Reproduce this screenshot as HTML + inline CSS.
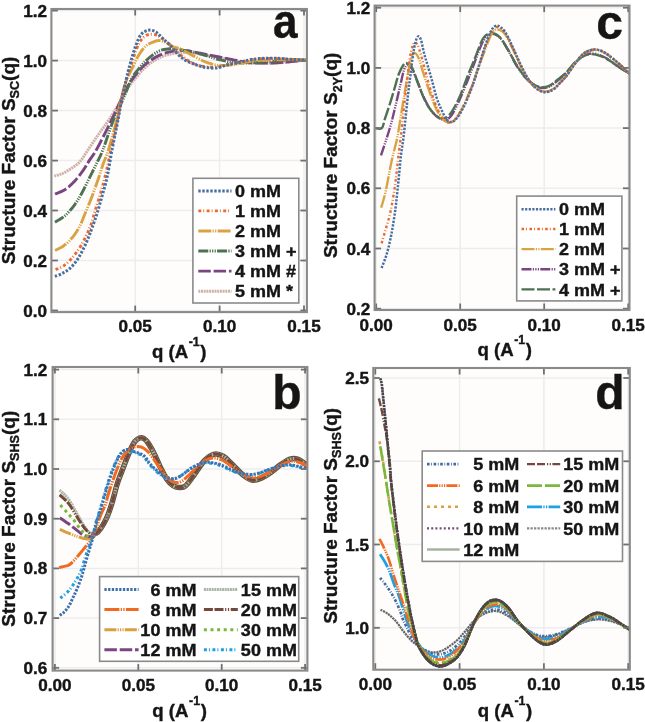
<!DOCTYPE html>
<html><head><meta charset="utf-8"><title>Structure factor figure</title>
<style>html,body{margin:0;padding:0;background:#fff;width:645px;height:722px;overflow:hidden;font-family:"Liberation Sans",sans-serif}svg{display:block;filter:blur(0.5px)}text{stroke:#151515;stroke-width:0.4px}</style>
</head><body>
<svg width="645" height="722" viewBox="0 0 645 722" font-family="'Liberation Sans', sans-serif" font-weight="bold" fill="#151515"><clipPath id="clipa"><rect x="51.4" y="9.0" width="255.5" height="303.1"/></clipPath>
<rect x="51.4" y="9.0" width="255.5" height="303.1" fill="#fefdfc"/>
<g stroke="#ededed" stroke-width="1.5"><line x1="135.2" y1="9.0" x2="135.2" y2="312.1"/><line x1="219.6" y1="9.0" x2="219.6" y2="312.1"/><line x1="304.0" y1="9.0" x2="304.0" y2="312.1"/><line x1="51.4" y1="310.5" x2="306.9" y2="310.5"/><line x1="51.4" y1="260.5" x2="306.9" y2="260.5"/><line x1="51.4" y1="210.5" x2="306.9" y2="210.5"/><line x1="51.4" y1="160.6" x2="306.9" y2="160.6"/><line x1="51.4" y1="110.6" x2="306.9" y2="110.6"/><line x1="51.4" y1="60.6" x2="306.9" y2="60.6"/><line x1="51.4" y1="10.6" x2="306.9" y2="10.6"/></g>
<g clip-path="url(#clipa)">
<path d="M54.30,176.10 C55.65,175.68 59.60,174.85 62.40,173.60 C65.20,172.35 68.20,170.57 71.10,168.60 C74.00,166.63 77.00,164.90 79.80,161.80 C82.60,158.70 84.87,154.47 87.90,150.00 C90.93,145.53 94.52,140.00 98.00,135.00 C101.48,130.00 104.97,125.75 108.80,120.00 C112.63,114.25 117.63,106.08 121.00,100.50 C124.37,94.92 126.33,90.50 129.00,86.50 C131.67,82.50 134.50,79.50 137.00,76.50 C139.50,73.50 141.50,70.92 144.00,68.50 C146.50,66.08 149.33,63.83 152.00,62.00 C154.67,60.17 157.17,58.75 160.00,57.50 C162.83,56.25 165.67,55.33 169.00,54.50 C172.33,53.67 176.03,52.75 180.00,52.50 C183.97,52.25 188.47,52.58 192.80,53.00 C197.13,53.42 201.60,54.25 206.00,55.00 C210.40,55.75 214.80,56.67 219.20,57.50 C223.60,58.33 228.02,59.17 232.40,60.00 C236.78,60.83 241.12,61.95 245.50,62.50 C249.88,63.05 254.28,63.18 258.70,63.30 C263.12,63.42 267.60,63.35 272.00,63.20 C276.40,63.05 280.72,62.77 285.10,62.40 C289.48,62.03 294.65,61.38 298.30,61.00 C301.95,60.62 305.55,60.25 307.00,60.10" fill="none" stroke="#cfb1aa" stroke-width="2.90" stroke-dasharray="2 0.7" stroke-linejoin="round"/>
<path d="M55.00,194.00 C56.65,193.28 61.60,191.87 64.90,189.70 C68.20,187.53 71.70,184.30 74.80,181.00 C77.90,177.70 81.02,173.42 83.50,169.90 C85.98,166.38 87.57,163.22 89.70,159.90 C91.83,156.58 92.65,156.65 96.30,150.00 C99.95,143.35 107.45,128.42 111.60,120.00 C115.75,111.58 118.37,105.38 121.20,99.50 C124.03,93.62 126.13,88.88 128.60,84.70 C131.07,80.52 133.52,77.52 136.00,74.40 C138.48,71.28 140.85,68.48 143.50,66.00 C146.15,63.52 149.12,61.35 151.90,59.50 C154.68,57.65 157.42,56.13 160.20,54.90 C162.98,53.67 165.58,52.85 168.60,52.10 C171.62,51.35 175.40,50.62 178.30,50.40 C181.20,50.18 183.58,50.58 186.00,50.80 C188.42,51.02 189.47,51.12 192.80,51.70 C196.13,52.28 201.60,53.42 206.00,54.30 C210.40,55.18 214.80,56.12 219.20,57.00 C223.60,57.88 228.02,58.73 232.40,59.60 C236.78,60.47 241.12,61.63 245.50,62.20 C249.88,62.77 254.28,62.87 258.70,63.00 C263.12,63.13 267.60,63.13 272.00,63.00 C276.40,62.87 280.72,62.55 285.10,62.20 C289.48,61.85 294.65,61.25 298.30,60.90 C301.95,60.55 305.55,60.23 307.00,60.10" fill="none" stroke="#7b4582" stroke-width="2.90" stroke-dasharray="12.5 2.8" stroke-linejoin="round"/>
<path d="M55.00,222.20 C56.65,221.13 61.60,218.73 64.90,215.80 C68.20,212.87 71.90,208.53 74.80,204.60 C77.70,200.67 79.82,196.75 82.30,192.20 C84.78,187.65 87.23,182.27 89.70,177.30 C92.17,172.33 94.92,166.95 97.10,162.40 C99.28,157.85 100.07,157.07 102.80,150.00 C105.53,142.93 110.13,128.42 113.50,120.00 C116.87,111.58 120.02,106.32 123.00,99.50 C125.98,92.68 128.92,84.05 131.40,79.10 C133.88,74.15 135.58,72.75 137.90,69.80 C140.22,66.85 142.82,63.88 145.30,61.40 C147.78,58.92 150.15,56.77 152.80,54.90 C155.45,53.03 158.42,51.22 161.20,50.20 C163.98,49.18 167.03,49.07 169.50,48.80 C171.97,48.53 173.58,48.35 176.00,48.60 C178.42,48.85 181.20,49.75 184.00,50.30 C186.80,50.85 189.13,51.02 192.80,51.90 C196.47,52.78 201.60,54.32 206.00,55.60 C210.40,56.88 214.80,58.50 219.20,59.60 C223.60,60.70 228.02,61.63 232.40,62.20 C236.78,62.77 241.12,62.95 245.50,63.00 C249.88,63.05 254.28,62.75 258.70,62.50 C263.12,62.25 266.78,61.83 272.00,61.50 C277.22,61.17 284.17,60.75 290.00,60.50 C295.83,60.25 304.17,60.08 307.00,60.00" fill="none" stroke="#4d7152" stroke-width="2.90" stroke-dasharray="10 1.3 1.2 1.3 1.2 1.3 1.2 1.3" stroke-linejoin="round"/>
<path d="M55.00,250.40 C56.23,249.78 60.13,248.15 62.40,246.70 C64.67,245.25 66.53,243.77 68.60,241.70 C70.67,239.63 72.93,236.88 74.80,234.30 C76.67,231.72 78.15,229.50 79.80,226.20 C81.45,222.90 82.63,219.55 84.70,214.50 C86.77,209.45 89.92,201.90 92.20,195.90 C94.48,189.90 96.55,183.88 98.40,178.50 C100.25,173.12 101.63,168.35 103.30,163.60 C104.97,158.85 106.17,157.27 108.40,150.00 C110.63,142.73 114.52,128.83 116.70,120.00 C118.88,111.17 119.72,103.95 121.50,97.00 C123.28,90.05 125.43,83.47 127.40,78.30 C129.37,73.13 131.40,69.90 133.30,66.00 C135.20,62.10 136.80,58.15 138.80,54.90 C140.80,51.65 143.10,48.57 145.30,46.50 C147.50,44.43 149.80,43.50 152.00,42.50 C154.20,41.50 156.18,40.53 158.50,40.50 C160.82,40.47 163.43,41.27 165.90,42.30 C168.37,43.33 171.02,45.67 173.30,46.70 C175.58,47.73 177.48,47.62 179.60,48.50 C181.72,49.38 183.80,50.82 186.00,52.00 C188.20,53.18 189.47,53.90 192.80,55.60 C196.13,57.30 201.60,60.57 206.00,62.20 C210.40,63.83 214.80,64.95 219.20,65.40 C223.60,65.85 228.02,65.43 232.40,64.90 C236.78,64.37 241.12,62.93 245.50,62.20 C249.88,61.47 254.28,60.90 258.70,60.50 C263.12,60.10 266.78,59.95 272.00,59.80 C277.22,59.65 284.17,59.57 290.00,59.60 C295.83,59.63 304.17,59.93 307.00,60.00" fill="none" stroke="#d9a344" stroke-width="2.90" stroke-dasharray="13 1.3 1.2 1.3 1.2 1.3" stroke-linejoin="round"/>
<path d="M55.60,269.60 C56.93,268.98 61.12,267.55 63.60,265.90 C66.08,264.25 68.42,261.87 70.50,259.70 C72.58,257.53 74.35,255.28 76.10,252.90 C77.85,250.52 79.45,247.98 81.00,245.40 C82.55,242.82 84.05,240.08 85.40,237.40 C86.75,234.72 87.97,232.00 89.10,229.30 C90.23,226.60 91.27,224.08 92.20,221.20 C93.13,218.32 93.25,216.83 94.70,212.00 C96.15,207.17 99.05,198.60 100.90,192.20 C102.75,185.80 104.20,180.30 105.80,173.60 C107.40,166.90 108.55,160.93 110.50,152.00 C112.45,143.07 115.67,128.83 117.50,120.00 C119.33,111.17 120.47,104.08 121.50,99.00 C122.53,93.92 122.72,93.37 123.70,89.50 C124.68,85.63 126.15,79.93 127.40,75.80 C128.65,71.67 129.95,68.42 131.20,64.70 C132.45,60.98 133.45,57.33 134.90,53.50 C136.35,49.67 138.03,44.70 139.90,41.70 C141.77,38.70 144.03,36.73 146.10,35.50 C148.17,34.27 150.45,34.30 152.30,34.30 C154.15,34.30 155.35,34.68 157.20,35.50 C159.05,36.32 161.33,37.65 163.40,39.20 C165.47,40.75 167.53,42.83 169.60,44.80 C171.67,46.77 173.52,48.93 175.80,51.00 C178.08,53.07 180.82,55.33 183.30,57.20 C185.78,59.07 188.22,60.85 190.70,62.20 C193.18,63.55 195.65,64.53 198.20,65.30 C200.75,66.07 202.95,66.48 206.00,66.80 C209.05,67.12 213.00,67.57 216.50,67.20 C220.00,66.83 223.03,65.47 227.00,64.60 C230.97,63.73 236.33,62.80 240.30,62.00 C244.27,61.20 246.85,60.37 250.80,59.80 C254.75,59.23 259.60,58.80 264.00,58.60 C268.40,58.40 272.80,58.45 277.20,58.60 C281.60,58.75 285.43,59.27 290.40,59.50 C295.37,59.73 304.23,59.92 307.00,60.00" fill="none" stroke="#ec6a2c" stroke-width="2.90" stroke-dasharray="3 2 0.9 2.4" stroke-linejoin="round"/>
<path d="M55.00,276.50 C56.23,275.97 59.92,274.65 62.40,273.30 C64.88,271.95 67.42,270.67 69.90,268.40 C72.38,266.13 75.03,263.02 77.30,259.70 C79.57,256.38 81.63,252.22 83.50,248.50 C85.37,244.78 87.05,240.92 88.50,237.40 C89.95,233.88 90.77,231.42 92.20,227.40 C93.63,223.38 95.45,218.55 97.10,213.30 C98.75,208.05 100.43,201.90 102.10,195.90 C103.77,189.90 105.45,184.95 107.10,177.30 C108.75,169.65 110.18,159.55 112.00,150.00 C113.82,140.45 116.37,128.50 118.00,120.00 C119.63,111.50 120.43,105.73 121.80,99.00 C123.17,92.27 124.95,84.92 126.20,79.60 C127.45,74.28 128.27,71.03 129.30,67.10 C130.33,63.17 131.27,59.72 132.40,56.00 C133.53,52.28 134.65,48.40 136.10,44.80 C137.55,41.20 139.03,36.83 141.10,34.40 C143.17,31.97 146.02,30.60 148.50,30.20 C150.98,29.80 153.72,30.70 156.00,32.00 C158.28,33.30 159.93,35.87 162.20,38.00 C164.47,40.13 167.12,42.22 169.60,44.80 C172.08,47.38 174.62,51.02 177.10,53.50 C179.58,55.98 181.88,58.03 184.50,59.70 C187.12,61.37 190.22,62.45 192.80,63.50 C195.38,64.55 197.80,65.33 200.00,66.00 C202.20,66.67 203.25,67.17 206.00,67.50 C208.75,67.83 213.00,68.42 216.50,68.00 C220.00,67.58 223.03,65.97 227.00,65.00 C230.97,64.03 236.33,63.10 240.30,62.20 C244.27,61.30 246.85,60.25 250.80,59.60 C254.75,58.95 259.60,58.52 264.00,58.30 C268.40,58.08 272.80,58.13 277.20,58.30 C281.60,58.47 285.43,59.02 290.40,59.30 C295.37,59.58 304.23,59.88 307.00,60.00" fill="none" stroke="#476ea2" stroke-width="3.00" stroke-dasharray="2.4 1.6" stroke-linejoin="round"/>
</g>
<g stroke="#707070" stroke-width="1.8"><line x1="135.2" y1="312.1" x2="135.2" y2="305.6"/><line x1="135.2" y1="9.0" x2="135.2" y2="15.5"/><line x1="219.6" y1="312.1" x2="219.6" y2="305.6"/><line x1="219.6" y1="9.0" x2="219.6" y2="15.5"/><line x1="304.0" y1="312.1" x2="304.0" y2="305.6"/><line x1="304.0" y1="9.0" x2="304.0" y2="15.5"/><line x1="51.4" y1="310.5" x2="57.9" y2="310.5"/><line x1="306.9" y1="310.5" x2="300.4" y2="310.5"/><line x1="51.4" y1="260.5" x2="57.9" y2="260.5"/><line x1="306.9" y1="260.5" x2="300.4" y2="260.5"/><line x1="51.4" y1="210.5" x2="57.9" y2="210.5"/><line x1="306.9" y1="210.5" x2="300.4" y2="210.5"/><line x1="51.4" y1="160.6" x2="57.9" y2="160.6"/><line x1="306.9" y1="160.6" x2="300.4" y2="160.6"/><line x1="51.4" y1="110.6" x2="57.9" y2="110.6"/><line x1="306.9" y1="110.6" x2="300.4" y2="110.6"/><line x1="51.4" y1="60.6" x2="57.9" y2="60.6"/><line x1="306.9" y1="60.6" x2="300.4" y2="60.6"/><line x1="51.4" y1="10.6" x2="57.9" y2="10.6"/><line x1="306.9" y1="10.6" x2="300.4" y2="10.6"/></g>
<rect x="51.4" y="9.0" width="255.5" height="303.1" fill="none" stroke="#8a8a8a" stroke-width="2.1"/>
<text transform="translate(135.2,332.0) scale(1.050,1)" font-size="16.3" text-anchor="middle">0.05</text>
<text transform="translate(219.6,332.0) scale(1.050,1)" font-size="16.3" text-anchor="middle">0.10</text>
<text transform="translate(304.0,332.0) scale(1.050,1)" font-size="16.3" text-anchor="middle">0.15</text>
<text transform="translate(47.0,316.5) scale(1.050,1)" font-size="16.3" text-anchor="end">0.0</text>
<text transform="translate(47.0,266.5) scale(1.050,1)" font-size="16.3" text-anchor="end">0.2</text>
<text transform="translate(47.0,216.5) scale(1.050,1)" font-size="16.3" text-anchor="end">0.4</text>
<text transform="translate(47.0,166.6) scale(1.050,1)" font-size="16.3" text-anchor="end">0.6</text>
<text transform="translate(47.0,116.6) scale(1.050,1)" font-size="16.3" text-anchor="end">0.8</text>
<text transform="translate(47.0,66.6) scale(1.050,1)" font-size="16.3" text-anchor="end">1.0</text>
<text transform="translate(47.0,16.6) scale(1.050,1)" font-size="16.3" text-anchor="end">1.2</text>
<text x="179.2" y="357.8" font-size="18.6" text-anchor="middle">q (A<tspan font-size="12.3" dy="-12.3" dx="0.6">-1</tspan><tspan dy="12.3" dx="0.6">)</tspan></text>
<text transform="translate(15.0,160.4) rotate(-90)" x="0" y="0" font-size="19" text-anchor="middle">Structure Factor S<tspan font-size="12.6" dy="4.3">SC</tspan><tspan dy="-4.3">(q)</tspan></text>
<text transform="translate(297.6,38.3) scale(0.920,1)" font-size="48.0" text-anchor="end">a</text>
<rect x="192.9" y="178.3" width="105.9" height="124.7" fill="#ffffff" stroke="#8a8a8a" stroke-width="1.6"/>
<line x1="198.3" y1="191.0" x2="231.5" y2="191.0" stroke="#476ea2" stroke-width="3.00" stroke-dasharray="2.4 1.6"/>
<text transform="translate(235.0,197.1) scale(1.060,1)" font-size="17.0" text-anchor="start">0 mM</text>
<line x1="198.3" y1="210.9" x2="231.5" y2="210.9" stroke="#ec6a2c" stroke-width="2.90" stroke-dasharray="3 2 0.9 2.4"/>
<text transform="translate(235.0,217.0) scale(1.060,1)" font-size="17.0" text-anchor="start">1 mM</text>
<line x1="198.3" y1="231.0" x2="231.5" y2="231.0" stroke="#d9a344" stroke-width="2.90" stroke-dasharray="13 1.3 1.2 1.3 1.2 1.3"/>
<text transform="translate(235.0,237.1) scale(1.060,1)" font-size="17.0" text-anchor="start">2 mM</text>
<line x1="198.3" y1="251.0" x2="231.5" y2="251.0" stroke="#4d7152" stroke-width="2.90" stroke-dasharray="10 1.3 1.2 1.3 1.2 1.3 1.2 1.3"/>
<text transform="translate(235.0,257.1) scale(1.060,1)" font-size="17.0" text-anchor="start">3 mM +</text>
<line x1="198.3" y1="271.1" x2="231.5" y2="271.1" stroke="#7b4582" stroke-width="2.90" stroke-dasharray="12.5 2.8"/>
<text transform="translate(235.0,277.2) scale(1.060,1)" font-size="17.0" text-anchor="start">4 mM #</text>
<line x1="198.3" y1="291.2" x2="231.5" y2="291.2" stroke="#cfb1aa" stroke-width="2.90" stroke-dasharray="2 0.7"/>
<text transform="translate(235.0,297.3) scale(1.060,1)" font-size="17.0" text-anchor="start">5 mM *</text>
<clipPath id="clipb"><rect x="52.6" y="367.0" width="254.8" height="303.6"/></clipPath>
<rect x="52.6" y="367.0" width="254.8" height="303.6" fill="#fefdfc"/>
<g stroke="#ededed" stroke-width="1.5"><line x1="54.9" y1="367.0" x2="54.9" y2="670.6"/><line x1="138.3" y1="367.0" x2="138.3" y2="670.6"/><line x1="221.7" y1="367.0" x2="221.7" y2="670.6"/><line x1="305.1" y1="367.0" x2="305.1" y2="670.6"/><line x1="52.6" y1="667.8" x2="307.4" y2="667.8"/><line x1="52.6" y1="618.1" x2="307.4" y2="618.1"/><line x1="52.6" y1="568.4" x2="307.4" y2="568.4"/><line x1="52.6" y1="518.7" x2="307.4" y2="518.7"/><line x1="52.6" y1="469.0" x2="307.4" y2="469.0"/><line x1="52.6" y1="419.3" x2="307.4" y2="419.3"/><line x1="52.6" y1="369.6" x2="307.4" y2="369.6"/></g>
<g clip-path="url(#clipb)">
<path d="M92.20,534.40 C93.12,534.03 95.85,533.87 97.70,532.20 C99.55,530.53 101.63,527.18 103.30,524.40 C104.97,521.62 106.25,519.07 107.70,515.50 C109.15,511.93 110.42,508.25 112.00,503.00 C113.58,497.75 115.60,489.17 117.20,484.00 C118.80,478.83 120.13,475.92 121.60,472.00 C123.07,468.08 124.52,464.25 126.00,460.50 C127.48,456.75 129.02,452.67 130.50,449.50 C131.98,446.33 133.40,443.42 134.90,441.50 C136.40,439.58 138.02,438.50 139.50,438.00 C140.98,437.50 142.30,437.57 143.80,438.50 C145.30,439.43 146.68,440.90 148.50,443.60 C150.32,446.30 152.63,450.57 154.70,454.70 C156.77,458.83 158.83,464.25 160.90,468.40 C162.97,472.55 165.03,476.70 167.10,479.60 C169.17,482.50 171.23,484.47 173.30,485.80 C175.37,487.13 177.43,487.60 179.50,487.60 C181.57,487.60 183.20,488.00 185.70,485.80 C188.20,483.60 191.43,478.53 194.50,474.40 C197.57,470.27 200.92,464.35 204.10,461.00 C207.28,457.65 210.42,455.10 213.60,454.30 C216.78,453.50 220.02,454.45 223.20,456.20 C226.38,457.95 229.52,461.77 232.70,464.80 C235.88,467.83 239.12,471.85 242.30,474.40 C245.48,476.95 248.63,479.47 251.80,480.10 C254.97,480.73 258.12,479.48 261.30,478.20 C264.48,476.92 267.72,474.63 270.90,472.40 C274.08,470.17 277.22,467.02 280.40,464.80 C283.58,462.58 287.13,460.05 290.00,459.10 C292.87,458.15 295.07,458.30 297.60,459.10 C300.13,459.90 303.47,462.83 305.20,463.90 C306.93,464.97 307.53,465.23 308.00,465.50" fill="none" stroke="#5e5445" stroke-width="5.50" stroke-linejoin="round"/>
<path d="M59.80,529.30 C61.27,529.95 65.65,532.00 68.60,533.20 C71.55,534.40 74.73,535.57 77.50,536.50 C80.27,537.43 82.80,538.52 85.20,538.80 C87.60,539.08 89.82,539.30 91.90,538.20 C93.98,537.10 95.80,534.50 97.70,532.20 C99.60,529.90 101.63,527.18 103.30,524.40 C104.97,521.62 106.25,519.07 107.70,515.50 C109.15,511.93 110.42,508.25 112.00,503.00 C113.58,497.75 115.60,489.17 117.20,484.00 C118.80,478.83 120.13,475.92 121.60,472.00 C123.07,468.08 124.52,464.25 126.00,460.50 C127.48,456.75 129.02,452.67 130.50,449.50 C131.98,446.33 133.40,443.42 134.90,441.50 C136.40,439.58 138.02,438.50 139.50,438.00 C140.98,437.50 142.30,437.57 143.80,438.50 C145.30,439.43 146.68,440.90 148.50,443.60 C150.32,446.30 152.63,450.57 154.70,454.70 C156.77,458.83 158.83,464.25 160.90,468.40 C162.97,472.55 165.03,476.70 167.10,479.60 C169.17,482.50 171.23,484.47 173.30,485.80 C175.37,487.13 177.43,487.60 179.50,487.60 C181.57,487.60 183.20,488.00 185.70,485.80 C188.20,483.60 191.43,478.53 194.50,474.40 C197.57,470.27 200.92,464.35 204.10,461.00 C207.28,457.65 210.42,455.10 213.60,454.30 C216.78,453.50 220.02,454.45 223.20,456.20 C226.38,457.95 229.52,461.77 232.70,464.80 C235.88,467.83 239.12,471.85 242.30,474.40 C245.48,476.95 248.63,479.47 251.80,480.10 C254.97,480.73 258.12,479.48 261.30,478.20 C264.48,476.92 267.72,474.63 270.90,472.40 C274.08,470.17 277.22,467.02 280.40,464.80 C283.58,462.58 287.13,460.05 290.00,459.10 C292.87,458.15 295.07,458.30 297.60,459.10 C300.13,459.90 303.47,462.83 305.20,463.90 C306.93,464.97 307.53,465.23 308.00,465.50" fill="none" stroke="#d8a040" stroke-width="3.00" stroke-dasharray="12 1.2 1.2 1.2 1.2 1.2 1.2 1.2" stroke-linejoin="round"/>
<path d="M59.80,517.70 C61.27,518.72 65.83,521.77 68.60,523.80 C71.37,525.83 74.00,528.05 76.40,529.90 C78.80,531.75 80.98,533.80 83.00,534.90 C85.02,536.00 86.83,536.27 88.50,536.50 C90.17,536.73 91.47,537.02 93.00,536.30 C94.53,535.58 95.98,534.18 97.70,532.20 C99.42,530.22 101.63,527.18 103.30,524.40 C104.97,521.62 106.25,519.07 107.70,515.50 C109.15,511.93 110.42,508.25 112.00,503.00 C113.58,497.75 115.60,489.17 117.20,484.00 C118.80,478.83 120.13,475.92 121.60,472.00 C123.07,468.08 124.52,464.25 126.00,460.50 C127.48,456.75 129.02,452.67 130.50,449.50 C131.98,446.33 133.40,443.42 134.90,441.50 C136.40,439.58 138.02,438.50 139.50,438.00 C140.98,437.50 142.30,437.57 143.80,438.50 C145.30,439.43 146.68,440.90 148.50,443.60 C150.32,446.30 152.63,450.57 154.70,454.70 C156.77,458.83 158.83,464.25 160.90,468.40 C162.97,472.55 165.03,476.70 167.10,479.60 C169.17,482.50 171.23,484.47 173.30,485.80 C175.37,487.13 177.43,487.60 179.50,487.60 C181.57,487.60 183.20,488.00 185.70,485.80 C188.20,483.60 191.43,478.53 194.50,474.40 C197.57,470.27 200.92,464.35 204.10,461.00 C207.28,457.65 210.42,455.10 213.60,454.30 C216.78,453.50 220.02,454.45 223.20,456.20 C226.38,457.95 229.52,461.77 232.70,464.80 C235.88,467.83 239.12,471.85 242.30,474.40 C245.48,476.95 248.63,479.47 251.80,480.10 C254.97,480.73 258.12,479.48 261.30,478.20 C264.48,476.92 267.72,474.63 270.90,472.40 C274.08,470.17 277.22,467.02 280.40,464.80 C283.58,462.58 287.13,460.05 290.00,459.10 C292.87,458.15 295.07,458.30 297.60,459.10 C300.13,459.90 303.47,462.83 305.20,463.90 C306.93,464.97 307.53,465.23 308.00,465.50" fill="none" stroke="#7b4582" stroke-width="3.00" stroke-dasharray="12.5 2.8" stroke-linejoin="round"/>
<path d="M60.30,505.00 C61.13,505.92 63.73,508.75 65.30,510.50 C66.87,512.25 68.23,513.83 69.70,515.50 C71.17,517.17 72.72,518.75 74.10,520.50 C75.48,522.25 76.70,524.25 78.00,526.00 C79.30,527.75 80.52,529.43 81.90,531.00 C83.28,532.57 84.78,534.40 86.30,535.40 C87.82,536.40 89.10,537.53 91.00,537.00 C92.90,536.47 95.65,534.30 97.70,532.20 C99.75,530.10 101.63,527.18 103.30,524.40 C104.97,521.62 106.25,519.07 107.70,515.50 C109.15,511.93 110.42,508.25 112.00,503.00 C113.58,497.75 115.60,489.17 117.20,484.00 C118.80,478.83 120.13,475.92 121.60,472.00 C123.07,468.08 124.52,464.25 126.00,460.50 C127.48,456.75 129.02,452.67 130.50,449.50 C131.98,446.33 133.40,443.42 134.90,441.50 C136.40,439.58 138.02,438.50 139.50,438.00 C140.98,437.50 142.30,437.57 143.80,438.50 C145.30,439.43 146.68,440.90 148.50,443.60 C150.32,446.30 152.63,450.57 154.70,454.70 C156.77,458.83 158.83,464.25 160.90,468.40 C162.97,472.55 165.03,476.70 167.10,479.60 C169.17,482.50 171.23,484.47 173.30,485.80 C175.37,487.13 177.43,487.60 179.50,487.60 C181.57,487.60 183.20,488.00 185.70,485.80 C188.20,483.60 191.43,478.53 194.50,474.40 C197.57,470.27 200.92,464.35 204.10,461.00 C207.28,457.65 210.42,455.10 213.60,454.30 C216.78,453.50 220.02,454.45 223.20,456.20 C226.38,457.95 229.52,461.77 232.70,464.80 C235.88,467.83 239.12,471.85 242.30,474.40 C245.48,476.95 248.63,479.47 251.80,480.10 C254.97,480.73 258.12,479.48 261.30,478.20 C264.48,476.92 267.72,474.63 270.90,472.40 C274.08,470.17 277.22,467.02 280.40,464.80 C283.58,462.58 287.13,460.05 290.00,459.10 C292.87,458.15 295.07,458.30 297.60,459.10 C300.13,459.90 303.47,462.83 305.20,463.90 C306.93,464.97 307.53,465.23 308.00,465.50" fill="none" stroke="#7ab83a" stroke-width="3.00" stroke-dasharray="3 3.6" stroke-linejoin="round"/>
<path d="M59.60,490.20 C60.55,491.08 63.57,493.62 65.30,495.50 C67.03,497.38 68.30,498.92 70.00,501.50 C71.70,504.08 73.65,507.75 75.50,511.00 C77.35,514.25 79.25,517.92 81.10,521.00 C82.95,524.08 84.75,527.27 86.60,529.50 C88.45,531.73 90.35,533.95 92.20,534.40 C94.05,534.85 95.85,533.87 97.70,532.20 C99.55,530.53 101.63,527.18 103.30,524.40 C104.97,521.62 106.25,519.07 107.70,515.50 C109.15,511.93 110.42,508.25 112.00,503.00 C113.58,497.75 115.60,489.17 117.20,484.00 C118.80,478.83 120.13,475.92 121.60,472.00 C123.07,468.08 124.52,464.25 126.00,460.50 C127.48,456.75 129.02,452.67 130.50,449.50 C131.98,446.33 133.40,443.42 134.90,441.50 C136.40,439.58 138.02,438.50 139.50,438.00 C140.98,437.50 142.30,437.57 143.80,438.50 C145.30,439.43 146.68,440.90 148.50,443.60 C150.32,446.30 152.63,450.57 154.70,454.70 C156.77,458.83 158.83,464.25 160.90,468.40 C162.97,472.55 165.03,476.70 167.10,479.60 C169.17,482.50 171.23,484.47 173.30,485.80 C175.37,487.13 177.43,487.60 179.50,487.60 C181.57,487.60 183.20,488.00 185.70,485.80 C188.20,483.60 191.43,478.53 194.50,474.40 C197.57,470.27 200.92,464.35 204.10,461.00 C207.28,457.65 210.42,455.10 213.60,454.30 C216.78,453.50 220.02,454.45 223.20,456.20 C226.38,457.95 229.52,461.77 232.70,464.80 C235.88,467.83 239.12,471.85 242.30,474.40 C245.48,476.95 248.63,479.47 251.80,480.10 C254.97,480.73 258.12,479.48 261.30,478.20 C264.48,476.92 267.72,474.63 270.90,472.40 C274.08,470.17 277.22,467.02 280.40,464.80 C283.58,462.58 287.13,460.05 290.00,459.10 C292.87,458.15 295.07,458.30 297.60,459.10 C300.13,459.90 303.47,462.83 305.20,463.90 C306.93,464.97 307.53,465.23 308.00,465.50" fill="none" stroke="#a9b6a5" stroke-width="3.00" stroke-dasharray="2 0.6" stroke-linejoin="round"/>
<path d="M59.60,494.80 C60.55,495.67 63.57,498.22 65.30,500.00 C67.03,501.78 68.30,503.10 70.00,505.50 C71.70,507.90 73.65,511.43 75.50,514.40 C77.35,517.37 79.25,520.62 81.10,523.30 C82.95,525.98 84.75,528.65 86.60,530.50 C88.45,532.35 90.35,534.12 92.20,534.40 C94.05,534.68 95.85,533.87 97.70,532.20 C99.55,530.53 101.63,527.18 103.30,524.40 C104.97,521.62 106.25,519.07 107.70,515.50 C109.15,511.93 110.42,508.25 112.00,503.00 C113.58,497.75 115.60,489.17 117.20,484.00 C118.80,478.83 120.13,475.92 121.60,472.00 C123.07,468.08 124.52,464.25 126.00,460.50 C127.48,456.75 129.02,452.67 130.50,449.50 C131.98,446.33 133.40,443.42 134.90,441.50 C136.40,439.58 138.02,438.50 139.50,438.00 C140.98,437.50 142.30,437.57 143.80,438.50 C145.30,439.43 146.68,440.90 148.50,443.60 C150.32,446.30 152.63,450.57 154.70,454.70 C156.77,458.83 158.83,464.25 160.90,468.40 C162.97,472.55 165.03,476.70 167.10,479.60 C169.17,482.50 171.23,484.47 173.30,485.80 C175.37,487.13 177.43,487.60 179.50,487.60 C181.57,487.60 183.20,488.00 185.70,485.80 C188.20,483.60 191.43,478.53 194.50,474.40 C197.57,470.27 200.92,464.35 204.10,461.00 C207.28,457.65 210.42,455.10 213.60,454.30 C216.78,453.50 220.02,454.45 223.20,456.20 C226.38,457.95 229.52,461.77 232.70,464.80 C235.88,467.83 239.12,471.85 242.30,474.40 C245.48,476.95 248.63,479.47 251.80,480.10 C254.97,480.73 258.12,479.48 261.30,478.20 C264.48,476.92 267.72,474.63 270.90,472.40 C274.08,470.17 277.22,467.02 280.40,464.80 C283.58,462.58 287.13,460.05 290.00,459.10 C292.87,458.15 295.07,458.30 297.60,459.10 C300.13,459.90 303.47,462.83 305.20,463.90 C306.93,464.97 307.53,465.23 308.00,465.50" fill="none" stroke="#74493c" stroke-width="3.00" stroke-dasharray="9 1.6 9 1.6 1.2 1.6 1.2 1.6" stroke-linejoin="round"/>
<path d="M59.20,567.60 C60.40,567.32 64.60,566.45 66.40,565.90 C68.20,565.35 68.48,565.48 70.00,564.30 C71.52,563.12 73.65,560.83 75.50,558.80 C77.35,556.77 79.25,554.32 81.10,552.10 C82.95,549.88 84.93,547.53 86.60,545.50 C88.27,543.47 89.80,542.12 91.10,539.90 C92.40,537.68 93.30,534.97 94.40,532.20 C95.50,529.43 96.60,526.27 97.70,523.30 C98.80,520.33 99.70,517.55 101.00,514.40 C102.30,511.25 104.28,507.75 105.50,504.40 C106.72,501.05 107.10,498.20 108.30,494.30 C109.50,490.40 111.22,485.25 112.70,481.00 C114.18,476.75 115.72,472.50 117.20,468.80 C118.68,465.10 119.93,461.75 121.60,458.80 C123.27,455.85 125.35,452.95 127.20,451.10 C129.05,449.25 130.87,448.45 132.70,447.70 C134.53,446.95 136.35,446.50 138.20,446.60 C140.05,446.70 141.83,447.07 143.80,448.30 C145.77,449.53 147.80,451.38 150.00,454.00 C152.20,456.62 154.83,461.00 157.00,464.00 C159.17,467.00 160.83,469.33 163.00,472.00 C165.17,474.67 167.83,478.25 170.00,480.00 C172.17,481.75 174.00,482.33 176.00,482.50 C178.00,482.67 179.67,482.42 182.00,481.00 C184.33,479.58 187.33,476.50 190.00,474.00 C192.67,471.50 195.33,468.33 198.00,466.00 C200.67,463.67 203.33,461.33 206.00,460.00 C208.67,458.67 211.17,457.92 214.00,458.00 C216.83,458.08 219.83,458.92 223.00,460.50 C226.17,462.08 229.83,465.25 233.00,467.50 C236.17,469.75 238.83,472.33 242.00,474.00 C245.17,475.67 248.78,477.13 252.00,477.50 C255.22,477.87 258.13,477.28 261.30,476.20 C264.47,475.12 267.82,472.78 271.00,471.00 C274.18,469.22 277.23,467.08 280.40,465.50 C283.57,463.92 287.07,462.08 290.00,461.50 C292.93,460.92 295.00,461.25 298.00,462.00 C301.00,462.75 306.33,465.33 308.00,466.00" fill="none" stroke="#f06a22" stroke-width="3.00" stroke-dasharray="15 1.3 1.3 1.3 1.3 1.3" stroke-linejoin="round"/>
<path d="M60.30,598.20 C61.50,597.18 65.38,594.30 67.50,592.10 C69.62,589.90 71.33,587.40 73.00,585.00 C74.67,582.60 76.12,580.20 77.50,577.70 C78.88,575.20 80.20,572.77 81.30,570.00 C82.40,567.23 83.15,564.10 84.10,561.10 C85.05,558.10 85.98,555.02 87.00,552.00 C88.02,548.98 89.20,545.85 90.20,543.00 C91.20,540.15 92.07,538.28 93.00,534.90 C93.93,531.52 94.87,526.22 95.80,522.70 C96.73,519.18 97.67,516.77 98.60,513.80 C99.53,510.83 100.47,508.07 101.40,504.90 C102.33,501.73 103.00,498.88 104.20,494.80 C105.40,490.72 107.13,484.83 108.60,480.40 C110.07,475.97 111.52,471.90 113.00,468.20 C114.48,464.50 116.02,460.88 117.50,458.20 C118.98,455.52 120.42,453.48 121.90,452.10 C123.38,450.72 124.73,449.98 126.40,449.90 C128.07,449.82 129.88,450.95 131.90,451.60 C133.92,452.25 136.47,452.88 138.50,453.80 C140.53,454.72 142.37,455.42 144.10,457.10 C145.83,458.78 146.87,461.52 148.90,463.90 C150.93,466.28 154.03,469.33 156.30,471.40 C158.57,473.47 160.42,475.07 162.50,476.30 C164.58,477.53 166.72,478.38 168.80,478.80 C170.88,479.22 172.93,479.35 175.00,478.80 C177.07,478.25 179.17,476.80 181.20,475.50 C183.23,474.20 185.03,472.50 187.20,471.00 C189.37,469.50 191.52,467.83 194.20,466.50 C196.88,465.17 200.20,463.52 203.30,463.00 C206.40,462.48 209.62,462.85 212.80,463.40 C215.98,463.95 219.22,465.03 222.40,466.30 C225.58,467.57 228.72,469.73 231.90,471.00 C235.08,472.27 238.32,473.25 241.50,473.90 C244.68,474.55 247.83,475.07 251.00,474.90 C254.17,474.73 257.32,473.87 260.50,472.90 C263.68,471.93 266.92,470.20 270.10,469.10 C273.28,468.00 276.42,466.93 279.60,466.30 C282.78,465.67 286.02,465.15 289.20,465.30 C292.38,465.45 295.70,466.57 298.70,467.20 C301.70,467.83 305.78,468.78 307.20,469.10" fill="none" stroke="#1ea0e6" stroke-width="3.00" stroke-dasharray="3 2 1 2.5" stroke-linejoin="round"/>
<path d="M59.80,615.40 C60.53,614.83 62.73,613.48 64.20,612.00 C65.67,610.52 67.13,608.88 68.60,606.50 C70.07,604.12 71.52,600.83 73.00,597.70 C74.48,594.57 76.08,591.15 77.50,587.70 C78.92,584.25 80.35,580.45 81.50,577.00 C82.65,573.55 83.37,570.67 84.40,567.00 C85.43,563.33 86.58,558.83 87.70,555.00 C88.82,551.17 90.08,547.43 91.10,544.00 C92.12,540.57 92.88,538.03 93.80,534.40 C94.72,530.77 95.67,525.72 96.60,522.20 C97.53,518.68 98.47,516.27 99.40,513.30 C100.33,510.33 101.27,507.57 102.20,504.40 C103.13,501.23 103.80,498.38 105.00,494.30 C106.20,490.22 107.93,484.33 109.40,479.90 C110.87,475.47 112.32,471.40 113.80,467.70 C115.28,464.00 116.82,460.38 118.30,457.70 C119.78,455.02 121.22,452.98 122.70,451.60 C124.18,450.22 125.53,449.48 127.20,449.40 C128.87,449.32 130.68,450.45 132.70,451.10 C134.72,451.75 137.27,452.38 139.30,453.30 C141.33,454.22 143.17,454.92 144.90,456.60 C146.63,458.28 147.67,461.02 149.70,463.40 C151.73,465.78 154.83,468.83 157.10,470.90 C159.37,472.97 161.22,474.57 163.30,475.80 C165.38,477.03 167.52,477.88 169.60,478.30 C171.68,478.72 173.73,478.85 175.80,478.30 C177.87,477.75 179.97,476.30 182.00,475.00 C184.03,473.70 185.83,472.00 188.00,470.50 C190.17,469.00 192.32,467.33 195.00,466.00 C197.68,464.67 201.00,463.02 204.10,462.50 C207.20,461.98 210.42,462.35 213.60,462.90 C216.78,463.45 220.02,464.53 223.20,465.80 C226.38,467.07 229.52,469.23 232.70,470.50 C235.88,471.77 239.12,472.75 242.30,473.40 C245.48,474.05 248.63,474.57 251.80,474.40 C254.97,474.23 258.12,473.37 261.30,472.40 C264.48,471.43 267.72,469.70 270.90,468.60 C274.08,467.50 277.22,466.43 280.40,465.80 C283.58,465.17 286.82,464.65 290.00,464.80 C293.18,464.95 296.50,466.07 299.50,466.70 C302.50,467.33 306.58,468.28 308.00,468.60" fill="none" stroke="#3f70ad" stroke-width="3.00" stroke-dasharray="2.3 1.4" stroke-linejoin="round"/>
</g>
<g stroke="#707070" stroke-width="1.8"><line x1="54.9" y1="670.6" x2="54.9" y2="664.1"/><line x1="54.9" y1="367.0" x2="54.9" y2="373.5"/><line x1="138.3" y1="670.6" x2="138.3" y2="664.1"/><line x1="138.3" y1="367.0" x2="138.3" y2="373.5"/><line x1="221.7" y1="670.6" x2="221.7" y2="664.1"/><line x1="221.7" y1="367.0" x2="221.7" y2="373.5"/><line x1="305.1" y1="670.6" x2="305.1" y2="664.1"/><line x1="305.1" y1="367.0" x2="305.1" y2="373.5"/><line x1="52.6" y1="667.8" x2="59.1" y2="667.8"/><line x1="307.4" y1="667.8" x2="300.9" y2="667.8"/><line x1="52.6" y1="618.1" x2="59.1" y2="618.1"/><line x1="307.4" y1="618.1" x2="300.9" y2="618.1"/><line x1="52.6" y1="568.4" x2="59.1" y2="568.4"/><line x1="307.4" y1="568.4" x2="300.9" y2="568.4"/><line x1="52.6" y1="518.7" x2="59.1" y2="518.7"/><line x1="307.4" y1="518.7" x2="300.9" y2="518.7"/><line x1="52.6" y1="469.0" x2="59.1" y2="469.0"/><line x1="307.4" y1="469.0" x2="300.9" y2="469.0"/><line x1="52.6" y1="419.3" x2="59.1" y2="419.3"/><line x1="307.4" y1="419.3" x2="300.9" y2="419.3"/><line x1="52.6" y1="369.6" x2="59.1" y2="369.6"/><line x1="307.4" y1="369.6" x2="300.9" y2="369.6"/></g>
<rect x="52.6" y="367.0" width="254.8" height="303.6" fill="none" stroke="#8a8a8a" stroke-width="2.1"/>
<text transform="translate(54.9,690.8) scale(1.050,1)" font-size="16.3" text-anchor="middle">0.00</text>
<text transform="translate(138.3,690.8) scale(1.050,1)" font-size="16.3" text-anchor="middle">0.05</text>
<text transform="translate(221.7,690.8) scale(1.050,1)" font-size="16.3" text-anchor="middle">0.10</text>
<text transform="translate(305.1,690.8) scale(1.050,1)" font-size="16.3" text-anchor="middle">0.15</text>
<text transform="translate(47.3,673.8) scale(1.050,1)" font-size="16.3" text-anchor="end">0.6</text>
<text transform="translate(47.3,624.1) scale(1.050,1)" font-size="16.3" text-anchor="end">0.7</text>
<text transform="translate(47.3,574.4) scale(1.050,1)" font-size="16.3" text-anchor="end">0.8</text>
<text transform="translate(47.3,524.7) scale(1.050,1)" font-size="16.3" text-anchor="end">0.9</text>
<text transform="translate(47.3,475.0) scale(1.050,1)" font-size="16.3" text-anchor="end">1.0</text>
<text transform="translate(47.3,425.3) scale(1.050,1)" font-size="16.3" text-anchor="end">1.1</text>
<text transform="translate(47.3,375.6) scale(1.050,1)" font-size="16.3" text-anchor="end">1.2</text>
<text x="179.6" y="717.2" font-size="18.6" text-anchor="middle">q (A<tspan font-size="12.3" dy="-12.3" dx="0.6">-1</tspan><tspan dy="12.3" dx="0.6">)</tspan></text>
<text transform="translate(15.0,518.7) rotate(-90)" x="0" y="0" font-size="19" text-anchor="middle">Structure Factor S<tspan font-size="12.6" dy="4.3">SHS</tspan><tspan dy="-4.3">(q)</tspan></text>
<text x="301.5" y="409.0" font-size="48.0" text-anchor="end">b</text>
<rect x="99.6" y="576.6" width="199.1" height="84.7" fill="#ffffff" stroke="#8a8a8a" stroke-width="1.6"/>
<line x1="104.4" y1="589.5" x2="138.6" y2="589.5" stroke="#3f70ad" stroke-width="3.00" stroke-dasharray="2.3 1.4"/>
<text transform="translate(196.4,595.6) scale(1.060,1)" font-size="17.0" text-anchor="end">6 mM</text>
<line x1="104.4" y1="609.6" x2="138.6" y2="609.6" stroke="#f06a22" stroke-width="3.00" stroke-dasharray="15 1.3 1.3 1.3 1.3 1.3"/>
<text transform="translate(196.4,615.7) scale(1.060,1)" font-size="17.0" text-anchor="end">8 mM</text>
<line x1="104.4" y1="629.8" x2="138.6" y2="629.8" stroke="#d8a040" stroke-width="3.00" stroke-dasharray="12 1.2 1.2 1.2 1.2 1.2 1.2 1.2"/>
<text transform="translate(196.4,635.9) scale(1.060,1)" font-size="17.0" text-anchor="end">10 mM</text>
<line x1="104.4" y1="649.8" x2="138.6" y2="649.8" stroke="#7b4582" stroke-width="3.00" stroke-dasharray="12.5 2.8"/>
<text transform="translate(196.4,655.9) scale(1.060,1)" font-size="17.0" text-anchor="end">12 mM</text>
<line x1="203.9" y1="589.5" x2="237.8" y2="589.5" stroke="#a9b6a5" stroke-width="3.00" stroke-dasharray="2 0.6"/>
<text transform="translate(296.9,595.6) scale(1.060,1)" font-size="17.0" text-anchor="end">15 mM</text>
<line x1="203.9" y1="609.6" x2="237.8" y2="609.6" stroke="#74493c" stroke-width="3.00" stroke-dasharray="9 1.6 9 1.6 1.2 1.6 1.2 1.6"/>
<text transform="translate(296.9,615.7) scale(1.060,1)" font-size="17.0" text-anchor="end">20 mM</text>
<line x1="203.9" y1="629.8" x2="237.8" y2="629.8" stroke="#7ab83a" stroke-width="3.00" stroke-dasharray="3 3.6"/>
<text transform="translate(296.9,635.9) scale(1.060,1)" font-size="17.0" text-anchor="end">30 mM</text>
<line x1="203.9" y1="649.8" x2="237.8" y2="649.8" stroke="#1ea0e6" stroke-width="3.00" stroke-dasharray="3 2 1 2.5"/>
<text transform="translate(296.9,655.9) scale(1.060,1)" font-size="17.0" text-anchor="end">50 mM</text>
<clipPath id="clipc"><rect x="374.6" y="5.6" width="254.9" height="304.4"/></clipPath>
<rect x="374.6" y="5.6" width="254.9" height="304.4" fill="#fefdfc"/>
<g stroke="#ededed" stroke-width="1.5"><line x1="376.2" y1="5.6" x2="376.2" y2="310.0"/><line x1="460.2" y1="5.6" x2="460.2" y2="310.0"/><line x1="544.2" y1="5.6" x2="544.2" y2="310.0"/><line x1="628.2" y1="5.6" x2="628.2" y2="310.0"/><line x1="374.6" y1="308.7" x2="629.5" y2="308.7"/><line x1="374.6" y1="248.5" x2="629.5" y2="248.5"/><line x1="374.6" y1="188.3" x2="629.5" y2="188.3"/><line x1="374.6" y1="128.1" x2="629.5" y2="128.1"/><line x1="374.6" y1="67.9" x2="629.5" y2="67.9"/><line x1="374.6" y1="7.7" x2="629.5" y2="7.7"/></g>
<g clip-path="url(#clipc)">
<path d="M381.00,155.30 C381.90,152.60 384.72,144.38 386.40,139.10 C388.08,133.82 389.55,129.28 391.10,123.60 C392.65,117.92 394.15,111.47 395.70,105.00 C397.25,98.53 399.02,90.63 400.40,84.80 C401.78,78.97 402.82,73.38 404.00,70.00 C405.18,66.62 406.33,65.08 407.50,64.50 C408.67,63.92 409.35,63.63 411.00,66.50 C412.65,69.37 415.03,76.07 417.40,81.70 C419.77,87.33 422.62,95.13 425.20,100.30 C427.78,105.47 430.32,109.60 432.90,112.70 C435.48,115.80 438.37,117.73 440.70,118.90 C443.03,120.07 444.85,120.68 446.90,119.70 C448.95,118.72 450.68,116.78 453.00,113.00 C455.32,109.22 458.20,102.83 460.80,97.00 C463.40,91.17 466.40,83.50 468.60,78.00 C470.80,72.50 471.55,70.17 474.00,64.00 C476.45,57.83 480.37,46.03 483.30,41.00 C486.23,35.97 488.83,34.33 491.60,33.80 C494.37,33.27 497.13,35.02 499.90,37.80 C502.67,40.58 505.43,45.88 508.20,50.50 C510.97,55.12 513.73,61.08 516.50,65.50 C519.27,69.92 522.03,73.83 524.80,77.00 C527.57,80.17 530.33,82.67 533.10,84.50 C535.87,86.33 538.63,87.67 541.40,88.00 C544.17,88.33 547.00,87.75 549.70,86.50 C552.40,85.25 554.80,82.78 557.60,80.50 C560.40,78.22 563.53,75.80 566.50,72.80 C569.47,69.80 572.43,65.38 575.40,62.50 C578.37,59.62 581.53,57.00 584.30,55.50 C587.07,54.00 589.25,53.50 592.00,53.50 C594.75,53.50 597.85,54.38 600.80,55.50 C603.75,56.62 606.73,58.32 609.70,60.20 C612.67,62.08 615.72,64.83 618.60,66.80 C621.48,68.77 625.10,70.80 627.00,72.00 C628.90,73.20 629.50,73.67 630.00,74.00" fill="none" stroke="#7b4582" stroke-width="2.40" stroke-dasharray="10 1.3 1.2 1.3 1.2 1.3 1.2 1.3" stroke-linejoin="round"/>
<path d="M375.00,128.20 C376.13,128.20 380.15,129.75 381.80,128.20 C383.45,126.65 383.62,122.77 384.90,118.90 C386.18,115.03 387.95,109.90 389.50,105.00 C391.05,100.10 392.65,94.67 394.20,89.50 C395.75,84.33 397.25,78.13 398.80,74.00 C400.35,69.87 402.20,66.52 403.50,64.70 C404.80,62.88 405.32,62.85 406.60,63.10 C407.88,63.35 409.65,63.87 411.20,66.20 C412.75,68.53 414.08,72.45 415.90,77.10 C417.72,81.75 420.03,89.20 422.10,94.10 C424.17,99.00 425.98,102.88 428.30,106.50 C430.62,110.12 433.68,113.73 436.00,115.80 C438.32,117.87 440.38,118.63 442.20,118.90 C444.02,119.17 445.08,118.95 446.90,117.40 C448.72,115.85 450.78,113.48 453.10,109.60 C455.42,105.72 458.32,99.87 460.80,94.10 C463.28,88.33 465.80,80.60 468.00,75.00 C470.20,69.40 471.45,66.63 474.00,60.50 C476.55,54.37 480.37,42.73 483.30,38.20 C486.23,33.67 488.83,33.43 491.60,33.30 C494.37,33.17 497.13,34.63 499.90,37.40 C502.67,40.17 505.43,45.33 508.20,49.90 C510.97,54.47 513.73,60.38 516.50,64.80 C519.27,69.22 522.03,73.22 524.80,76.40 C527.57,79.58 530.33,82.10 533.10,83.90 C535.87,85.70 538.63,86.92 541.40,87.20 C544.17,87.48 547.00,86.85 549.70,85.60 C552.40,84.35 554.80,81.95 557.60,79.70 C560.40,77.45 563.53,75.07 566.50,72.10 C569.47,69.13 572.43,64.65 575.40,61.90 C578.37,59.15 581.55,56.90 584.30,55.60 C587.05,54.30 589.15,54.00 591.90,54.10 C594.65,54.20 597.83,55.10 600.80,56.20 C603.77,57.30 606.73,58.90 609.70,60.70 C612.67,62.50 615.72,65.10 618.60,67.00 C621.48,68.90 625.10,70.93 627.00,72.10 C628.90,73.27 629.50,73.68 630.00,74.00" fill="none" stroke="#4d7152" stroke-width="2.40" stroke-dasharray="13 2.5" stroke-linejoin="round"/>
<path d="M381.20,207.70 C381.80,205.58 383.75,199.22 384.80,195.00 C385.85,190.78 386.60,186.90 387.50,182.40 C388.40,177.90 389.30,172.50 390.20,168.00 C391.10,163.50 391.72,160.48 392.90,155.40 C394.08,150.32 395.93,144.35 397.30,137.50 C398.67,130.65 399.82,122.05 401.10,114.30 C402.38,106.55 403.70,98.50 405.00,91.00 C406.30,83.50 407.73,75.22 408.90,69.30 C410.07,63.38 410.98,58.22 412.00,55.50 C413.02,52.78 413.83,52.42 415.00,53.00 C416.17,53.58 417.57,55.50 419.00,59.00 C420.43,62.50 421.80,68.42 423.60,74.00 C425.40,79.58 427.73,86.75 429.80,92.50 C431.87,98.25 433.93,104.17 436.00,108.50 C438.07,112.83 440.38,116.25 442.20,118.50 C444.02,120.75 445.08,121.55 446.90,122.00 C448.72,122.45 450.78,123.00 453.10,121.20 C455.42,119.40 458.22,115.72 460.80,111.20 C463.38,106.68 466.40,99.27 468.60,94.10 C470.80,88.93 472.10,85.38 474.00,80.20 C475.90,75.02 478.17,68.03 480.00,63.00 C481.83,57.97 483.07,54.83 485.00,50.00 C486.93,45.17 489.60,37.42 491.60,34.00 C493.60,30.58 494.78,29.50 497.00,29.50 C499.22,29.50 502.20,30.58 504.90,34.00 C507.60,37.42 510.43,44.42 513.20,50.00 C515.97,55.58 518.73,62.25 521.50,67.50 C524.27,72.75 527.03,77.83 529.80,81.50 C532.57,85.17 535.47,87.83 538.10,89.50 C540.73,91.17 543.12,91.58 545.60,91.50 C548.08,91.42 550.60,90.50 553.00,89.00 C555.40,87.50 557.75,84.75 560.00,82.50 C562.25,80.25 563.93,78.75 566.50,75.50 C569.07,72.25 572.43,66.72 575.40,63.00 C578.37,59.28 581.12,55.37 584.30,53.20 C587.48,51.03 591.32,50.17 594.50,50.00 C597.68,49.83 600.43,50.78 603.40,52.20 C606.37,53.62 609.33,56.20 612.30,58.50 C615.27,60.80 618.75,63.83 621.20,66.00 C623.65,68.17 625.53,70.17 627.00,71.50 C628.47,72.83 629.50,73.58 630.00,74.00" fill="none" stroke="#d9a344" stroke-width="2.40" stroke-dasharray="13 1.3 1.2 1.3 1.2 1.3" stroke-linejoin="round"/>
<path d="M381.60,243.30 C382.28,240.97 384.42,233.73 385.70,229.30 C386.98,224.87 388.25,220.92 389.30,216.70 C390.35,212.48 391.10,208.82 392.00,204.00 C392.90,199.18 393.95,192.90 394.70,187.80 C395.45,182.70 395.90,178.50 396.50,173.40 C397.10,168.30 397.55,163.60 398.30,157.20 C399.05,150.80 400.13,142.53 401.00,135.00 C401.87,127.47 402.67,119.50 403.50,112.00 C404.33,104.50 405.17,97.33 406.00,90.00 C406.83,82.67 407.67,74.33 408.50,68.00 C409.33,61.67 410.03,56.23 411.00,52.00 C411.97,47.77 413.22,43.77 414.30,42.60 C415.38,41.43 416.38,42.93 417.50,45.00 C418.62,47.07 419.75,50.83 421.00,55.00 C422.25,59.17 423.50,64.50 425.00,70.00 C426.50,75.50 428.33,82.50 430.00,88.00 C431.67,93.50 433.33,98.67 435.00,103.00 C436.67,107.33 438.33,111.08 440.00,114.00 C441.67,116.92 443.50,119.08 445.00,120.50 C446.50,121.92 447.33,122.67 449.00,122.50 C450.67,122.33 452.67,122.08 455.00,119.50 C457.33,116.92 460.33,112.08 463.00,107.00 C465.67,101.92 468.73,94.50 471.00,89.00 C473.27,83.50 474.27,80.92 476.60,74.00 C478.93,67.08 482.50,54.58 485.00,47.50 C487.50,40.42 489.60,34.92 491.60,31.50 C493.60,28.08 494.78,26.83 497.00,27.00 C499.22,27.17 502.20,28.83 504.90,32.50 C507.60,36.17 510.43,43.25 513.20,49.00 C515.97,54.75 518.73,61.58 521.50,67.00 C524.27,72.42 527.03,77.75 529.80,81.50 C532.57,85.25 535.47,87.75 538.10,89.50 C540.73,91.25 543.12,92.00 545.60,92.00 C548.08,92.00 550.60,91.00 553.00,89.50 C555.40,88.00 557.75,85.27 560.00,83.00 C562.25,80.73 563.93,79.20 566.50,75.90 C569.07,72.60 572.43,67.02 575.40,63.20 C578.37,59.38 581.12,55.28 584.30,53.00 C587.48,50.72 591.32,49.70 594.50,49.50 C597.68,49.30 600.43,50.37 603.40,51.80 C606.37,53.23 609.33,55.78 612.30,58.10 C615.27,60.42 618.75,63.47 621.20,65.70 C623.65,67.93 625.53,70.12 627.00,71.50 C628.47,72.88 629.50,73.58 630.00,74.00" fill="none" stroke="#ec6a2c" stroke-width="2.40" stroke-dasharray="2.6 2 0.9 2.4" stroke-linejoin="round"/>
<path d="M381.60,268.00 C382.43,265.75 385.17,259.15 386.60,254.50 C388.03,249.85 389.15,244.90 390.20,240.10 C391.25,235.30 392.00,231.10 392.90,225.70 C393.80,220.30 394.85,213.42 395.60,207.70 C396.35,201.98 396.80,197.12 397.40,191.40 C398.00,185.68 398.60,179.47 399.20,173.40 C399.80,167.33 400.28,160.98 401.00,155.00 C401.72,149.02 402.70,144.03 403.50,137.50 C404.30,130.97 405.03,123.03 405.80,115.80 C406.57,108.57 407.33,100.82 408.10,94.10 C408.87,87.38 409.58,82.02 410.40,75.50 C411.22,68.98 412.15,60.58 413.00,55.00 C413.85,49.42 414.63,45.10 415.50,42.00 C416.37,38.90 417.28,36.73 418.20,36.40 C419.12,36.07 420.03,37.23 421.00,40.00 C421.97,42.77 422.92,48.83 424.00,53.00 C425.08,57.17 426.17,60.42 427.50,65.00 C428.83,69.58 430.52,75.17 432.00,80.50 C433.48,85.83 434.95,92.40 436.40,97.00 C437.85,101.60 439.22,104.70 440.70,108.10 C442.18,111.50 443.75,115.08 445.30,117.40 C446.85,119.72 448.18,121.75 450.00,122.00 C451.82,122.25 453.88,121.48 456.20,118.90 C458.52,116.32 461.32,111.67 463.90,106.50 C466.48,101.33 469.58,93.47 471.70,87.90 C473.82,82.33 474.38,80.00 476.60,73.10 C478.82,66.20 482.50,53.70 485.00,46.50 C487.50,39.30 489.53,33.35 491.60,29.90 C493.67,26.45 495.18,25.52 497.40,25.80 C499.62,26.08 502.27,27.87 504.90,31.60 C507.53,35.33 510.43,42.38 513.20,48.20 C515.97,54.02 518.73,60.97 521.50,66.50 C524.27,72.03 527.03,77.53 529.80,81.40 C532.57,85.27 535.47,87.90 538.10,89.70 C540.73,91.50 543.12,92.20 545.60,92.20 C548.08,92.20 550.60,91.22 553.00,89.70 C555.40,88.18 557.75,85.40 560.00,83.10 C562.25,80.80 563.93,79.22 566.50,75.90 C569.07,72.58 572.43,67.02 575.40,63.20 C578.37,59.38 581.12,55.28 584.30,53.00 C587.48,50.72 591.32,49.70 594.50,49.50 C597.68,49.30 600.43,50.37 603.40,51.80 C606.37,53.23 609.33,55.78 612.30,58.10 C615.27,60.42 618.75,63.47 621.20,65.70 C623.65,67.93 625.53,70.12 627.00,71.50 C628.47,72.88 629.50,73.58 630.00,74.00" fill="none" stroke="#476ea2" stroke-width="2.50" stroke-dasharray="2.2 1.4" stroke-linejoin="round"/>
</g>
<g stroke="#707070" stroke-width="1.8"><line x1="376.2" y1="310.0" x2="376.2" y2="303.5"/><line x1="376.2" y1="5.6" x2="376.2" y2="12.1"/><line x1="460.2" y1="310.0" x2="460.2" y2="303.5"/><line x1="460.2" y1="5.6" x2="460.2" y2="12.1"/><line x1="544.2" y1="310.0" x2="544.2" y2="303.5"/><line x1="544.2" y1="5.6" x2="544.2" y2="12.1"/><line x1="628.2" y1="310.0" x2="628.2" y2="303.5"/><line x1="628.2" y1="5.6" x2="628.2" y2="12.1"/><line x1="374.6" y1="308.7" x2="381.1" y2="308.7"/><line x1="629.5" y1="308.7" x2="623.0" y2="308.7"/><line x1="374.6" y1="248.5" x2="381.1" y2="248.5"/><line x1="629.5" y1="248.5" x2="623.0" y2="248.5"/><line x1="374.6" y1="188.3" x2="381.1" y2="188.3"/><line x1="629.5" y1="188.3" x2="623.0" y2="188.3"/><line x1="374.6" y1="128.1" x2="381.1" y2="128.1"/><line x1="629.5" y1="128.1" x2="623.0" y2="128.1"/><line x1="374.6" y1="67.9" x2="381.1" y2="67.9"/><line x1="629.5" y1="67.9" x2="623.0" y2="67.9"/><line x1="374.6" y1="7.7" x2="381.1" y2="7.7"/><line x1="629.5" y1="7.7" x2="623.0" y2="7.7"/></g>
<rect x="374.6" y="5.6" width="254.9" height="304.4" fill="none" stroke="#8a8a8a" stroke-width="2.1"/>
<text transform="translate(376.2,331.0) scale(1.050,1)" font-size="16.3" text-anchor="middle">0.00</text>
<text transform="translate(460.2,331.0) scale(1.050,1)" font-size="16.3" text-anchor="middle">0.05</text>
<text transform="translate(544.2,331.0) scale(1.050,1)" font-size="16.3" text-anchor="middle">0.10</text>
<text transform="translate(628.2,331.0) scale(1.050,1)" font-size="16.3" text-anchor="middle">0.15</text>
<text transform="translate(370.3,314.7) scale(1.050,1)" font-size="16.3" text-anchor="end">0.2</text>
<text transform="translate(370.3,254.5) scale(1.050,1)" font-size="16.3" text-anchor="end">0.4</text>
<text transform="translate(370.3,194.3) scale(1.050,1)" font-size="16.3" text-anchor="end">0.6</text>
<text transform="translate(370.3,134.1) scale(1.050,1)" font-size="16.3" text-anchor="end">0.8</text>
<text transform="translate(370.3,73.9) scale(1.050,1)" font-size="16.3" text-anchor="end">1.0</text>
<text transform="translate(370.3,13.7) scale(1.050,1)" font-size="16.3" text-anchor="end">1.2</text>
<text x="504.7" y="356.3" font-size="18.6" text-anchor="middle">q (A<tspan font-size="12.3" dy="-12.3" dx="0.6">-1</tspan><tspan dy="12.3" dx="0.6">)</tspan></text>
<text transform="translate(337.3,155.4) rotate(-90)" x="0" y="0" font-size="19" text-anchor="middle">Structure Factor S<tspan font-size="12.6" dy="4.3">2Y</tspan><tspan dy="-4.3">(q)</tspan></text>
<text x="623.0" y="38.5" font-size="48.0" text-anchor="end">c</text>
<rect x="516.7" y="196.1" width="105.2" height="104.8" fill="#ffffff" stroke="#8a8a8a" stroke-width="1.6"/>
<line x1="521.5" y1="209.2" x2="555.4" y2="209.2" stroke="#476ea2" stroke-width="2.50" stroke-dasharray="2.2 1.4"/>
<text transform="translate(559.0,215.3) scale(1.060,1)" font-size="17.0" text-anchor="start">0 mM</text>
<line x1="521.5" y1="229.0" x2="555.4" y2="229.0" stroke="#ec6a2c" stroke-width="2.40" stroke-dasharray="2.6 2 0.9 2.4"/>
<text transform="translate(559.0,235.1) scale(1.060,1)" font-size="17.0" text-anchor="start">1 mM</text>
<line x1="521.5" y1="249.1" x2="555.4" y2="249.1" stroke="#d9a344" stroke-width="2.40" stroke-dasharray="13 1.3 1.2 1.3 1.2 1.3"/>
<text transform="translate(559.0,255.2) scale(1.060,1)" font-size="17.0" text-anchor="start">2 mM</text>
<line x1="521.5" y1="269.3" x2="555.4" y2="269.3" stroke="#7b4582" stroke-width="2.40" stroke-dasharray="10 1.3 1.2 1.3 1.2 1.3 1.2 1.3"/>
<text transform="translate(559.0,275.4) scale(1.060,1)" font-size="17.0" text-anchor="start">3 mM +</text>
<line x1="521.5" y1="289.4" x2="555.4" y2="289.4" stroke="#4d7152" stroke-width="2.40" stroke-dasharray="13 2.5"/>
<text transform="translate(559.0,295.5) scale(1.060,1)" font-size="17.0" text-anchor="start">4 mM +</text>
<clipPath id="clipd"><rect x="373.3" y="368.0" width="256.5" height="301.7"/></clipPath>
<rect x="373.3" y="368.0" width="256.5" height="301.7" fill="#fefdfc"/>
<g stroke="#ededed" stroke-width="1.5"><line x1="375.3" y1="368.0" x2="375.3" y2="669.7"/><line x1="459.6" y1="368.0" x2="459.6" y2="669.7"/><line x1="543.9" y1="368.0" x2="543.9" y2="669.7"/><line x1="628.2" y1="368.0" x2="628.2" y2="669.7"/><line x1="373.3" y1="627.8" x2="629.8" y2="627.8"/><line x1="373.3" y1="544.5" x2="629.8" y2="544.5"/><line x1="373.3" y1="461.3" x2="629.8" y2="461.3"/><line x1="373.3" y1="378.0" x2="629.8" y2="378.0"/></g>
<g clip-path="url(#clipd)">
<path d="M411.70,619.40 C412.25,621.83 413.87,629.53 415.00,634.00 C416.13,638.47 416.62,642.10 418.50,646.20 C420.38,650.30 423.72,655.50 426.30,658.60 C428.88,661.70 431.42,663.52 434.00,664.80 C436.58,666.08 439.22,666.57 441.80,666.30 C444.38,666.03 446.92,664.75 449.50,663.20 C452.08,661.65 454.72,660.10 457.30,657.00 C459.88,653.90 461.97,650.85 465.00,644.60 C468.03,638.35 471.98,626.32 475.50,619.50 C479.02,612.68 482.58,606.98 486.10,603.70 C489.62,600.42 493.08,599.35 496.60,599.80 C500.12,600.25 503.68,602.88 507.20,606.40 C510.72,609.92 514.18,616.52 517.70,620.90 C521.22,625.28 524.78,629.20 528.30,632.70 C531.82,636.20 535.73,639.92 538.80,641.90 C541.87,643.88 543.62,644.82 546.70,644.60 C549.78,644.38 553.35,643.02 557.30,640.60 C561.25,638.18 566.02,633.62 570.40,630.10 C574.78,626.58 579.20,622.37 583.60,619.50 C588.00,616.63 592.40,613.33 596.80,612.90 C601.20,612.47 606.05,615.13 610.00,616.90 C613.95,618.67 617.43,621.52 620.50,623.50 C623.57,625.48 626.65,627.63 628.40,628.80 C630.15,629.97 630.57,630.22 631.00,630.50" fill="none" stroke="#4a4a4a" stroke-width="2.60" stroke-linejoin="round"/>
<path d="M380.50,609.70 C381.67,610.35 385.03,611.78 387.50,613.60 C389.97,615.42 392.72,617.75 395.30,620.60 C397.88,623.45 400.42,627.47 403.00,630.70 C405.58,633.93 408.22,637.42 410.80,640.00 C413.38,642.58 415.92,644.40 418.50,646.20 C421.08,648.00 423.72,649.77 426.30,650.80 C428.88,651.83 431.42,652.40 434.00,652.40 C436.58,652.40 439.22,651.83 441.80,650.80 C444.38,649.77 446.92,648.00 449.50,646.20 C452.08,644.40 454.72,642.47 457.30,640.00 C459.88,637.53 461.97,634.82 465.00,631.40 C468.03,627.98 471.98,622.58 475.50,619.50 C479.02,616.42 482.58,614.30 486.10,612.90 C489.62,611.50 493.08,610.65 496.60,611.10 C500.12,611.55 503.68,613.53 507.20,615.60 C510.72,617.67 514.18,620.87 517.70,623.50 C521.22,626.13 524.35,629.20 528.30,631.40 C532.25,633.60 537.02,636.03 541.40,636.70 C545.78,637.37 549.77,636.72 554.60,635.40 C559.43,634.08 565.57,631.00 570.40,628.80 C575.23,626.60 579.20,623.75 583.60,622.20 C588.00,620.65 592.40,619.72 596.80,619.50 C601.20,619.28 604.73,619.58 610.00,620.90 C615.27,622.22 624.90,626.13 628.40,627.40 C631.90,628.67 630.57,628.32 631.00,628.50" fill="none" stroke="#666666" stroke-width="2.20" stroke-dasharray="2.2 0.7" stroke-linejoin="round"/>
<path d="M380.10,577.80 C381.02,578.95 383.85,582.32 385.60,584.70 C387.35,587.08 388.93,589.42 390.60,592.10 C392.27,594.78 393.95,597.48 395.60,600.80 C397.25,604.12 399.27,608.90 400.50,612.00 C401.73,615.10 401.75,616.40 403.00,619.40 C404.25,622.40 406.50,626.90 408.00,630.00 C409.50,633.10 410.25,635.42 412.00,638.00 C413.75,640.58 416.12,643.33 418.50,645.50 C420.88,647.67 423.72,649.58 426.30,651.00 C428.88,652.42 431.42,653.50 434.00,654.00 C436.58,654.50 439.22,654.50 441.80,654.00 C444.38,653.50 446.92,652.50 449.50,651.00 C452.08,649.50 454.72,647.50 457.30,645.00 C459.88,642.50 461.97,640.17 465.00,636.00 C468.03,631.83 471.98,624.08 475.50,620.00 C479.02,615.92 482.58,613.25 486.10,611.50 C489.62,609.75 493.08,609.17 496.60,609.50 C500.12,609.83 503.68,611.33 507.20,613.50 C510.72,615.67 514.18,619.67 517.70,622.50 C521.22,625.33 524.78,628.33 528.30,630.50 C531.82,632.67 535.73,634.58 538.80,635.50 C541.87,636.42 543.62,636.25 546.70,636.00 C549.78,635.75 553.35,635.25 557.30,634.00 C561.25,632.75 566.02,630.50 570.40,628.50 C574.78,626.50 579.20,623.67 583.60,622.00 C588.00,620.33 592.40,618.92 596.80,618.50 C601.20,618.08 606.05,618.50 610.00,619.50 C613.95,620.50 617.43,622.95 620.50,624.50 C623.57,626.05 626.65,627.80 628.40,628.80 C630.15,629.80 630.57,630.22 631.00,630.50" fill="none" stroke="#46689a" stroke-width="2.70" stroke-dasharray="2.6 1.6 0.8 1.6" stroke-linejoin="round"/>
<path d="M380.10,554.30 C380.82,555.43 382.85,558.32 384.40,561.10 C385.95,563.88 387.75,567.07 389.40,571.00 C391.05,574.93 392.65,580.35 394.30,584.70 C395.95,589.05 397.43,591.73 399.30,597.10 C401.17,602.47 403.72,611.58 405.50,616.90 C407.28,622.22 407.83,624.48 410.00,629.00 C412.17,633.52 415.78,640.08 418.50,644.00 C421.22,647.92 423.72,650.42 426.30,652.50 C428.88,654.58 431.42,655.67 434.00,656.50 C436.58,657.33 439.22,657.83 441.80,657.50 C444.38,657.17 446.92,656.00 449.50,654.50 C452.08,653.00 454.72,651.08 457.30,648.50 C459.88,645.92 461.97,643.58 465.00,639.00 C468.03,634.42 471.98,626.00 475.50,621.00 C479.02,616.00 482.58,611.50 486.10,609.00 C489.62,606.50 493.08,605.67 496.60,606.00 C500.12,606.33 503.68,608.33 507.20,611.00 C510.72,613.67 514.18,618.67 517.70,622.00 C521.22,625.33 524.78,628.42 528.30,631.00 C531.82,633.58 535.73,636.17 538.80,637.50 C541.87,638.83 543.62,639.17 546.70,639.00 C549.78,638.83 553.35,638.17 557.30,636.50 C561.25,634.83 566.02,631.50 570.40,629.00 C574.78,626.50 579.20,623.50 583.60,621.50 C588.00,619.50 592.40,617.50 596.80,617.00 C601.20,616.50 606.05,617.33 610.00,618.50 C613.95,619.67 617.43,622.28 620.50,624.00 C623.57,625.72 626.65,627.72 628.40,628.80 C630.15,629.88 630.57,630.22 631.00,630.50" fill="none" stroke="#1ea0e6" stroke-width="2.80" stroke-dasharray="15 1.3 1.3 1.3 1.3 1.3" stroke-linejoin="round"/>
<path d="M379.40,538.80 C380.23,540.45 382.73,544.98 384.40,548.70 C386.07,552.42 387.75,556.35 389.40,561.10 C391.05,565.85 392.65,572.03 394.30,577.20 C395.95,582.37 397.63,587.13 399.30,592.10 C400.97,597.07 402.85,602.45 404.30,607.00 C405.75,611.55 406.72,615.23 408.00,619.40 C409.28,623.57 410.25,627.73 412.00,632.00 C413.75,636.27 416.12,641.33 418.50,645.00 C420.88,648.67 423.72,651.75 426.30,654.00 C428.88,656.25 431.42,657.58 434.00,658.50 C436.58,659.42 439.22,659.83 441.80,659.50 C444.38,659.17 446.92,658.08 449.50,656.50 C452.08,654.92 454.72,652.75 457.30,650.00 C459.88,647.25 461.97,644.83 465.00,640.00 C468.03,635.17 471.98,626.33 475.50,621.00 C479.02,615.67 482.58,610.75 486.10,608.00 C489.62,605.25 493.08,604.25 496.60,604.50 C500.12,604.75 503.68,606.67 507.20,609.50 C510.72,612.33 514.18,617.83 517.70,621.50 C521.22,625.17 524.78,628.58 528.30,631.50 C531.82,634.42 535.73,637.42 538.80,639.00 C541.87,640.58 543.62,641.17 546.70,641.00 C549.78,640.83 553.35,639.92 557.30,638.00 C561.25,636.08 566.02,632.33 570.40,629.50 C574.78,626.67 579.20,623.33 583.60,621.00 C588.00,618.67 592.40,616.00 596.80,615.50 C601.20,615.00 606.05,616.58 610.00,618.00 C613.95,619.42 617.43,622.20 620.50,624.00 C623.57,625.80 626.65,627.72 628.40,628.80 C630.15,629.88 630.57,630.22 631.00,630.50" fill="none" stroke="#f06a22" stroke-width="2.60" stroke-dasharray="11 1.2 1.2 1.2 1.2 1.2 1.2 1.2" stroke-linejoin="round"/>
<path d="M382.00,384.00 C382.23,386.28 382.93,393.10 383.40,397.70 C383.87,402.30 384.33,406.98 384.80,411.60 C385.27,416.22 385.75,420.78 386.20,425.40 C386.65,430.02 387.05,434.68 387.50,439.30 C387.95,443.92 388.43,448.48 388.90,453.10 C389.37,457.72 389.88,462.27 390.30,467.00 C390.72,471.73 390.80,475.48 391.40,481.50 C392.00,487.52 393.07,496.17 393.90,503.10 C394.73,510.03 395.60,516.95 396.40,523.10 C397.20,529.25 397.88,534.18 398.70,540.00 C399.52,545.82 400.28,551.33 401.30,558.00 C402.32,564.67 403.63,573.00 404.80,580.00 C405.97,587.00 407.10,593.43 408.30,600.00 C409.50,606.57 410.83,613.73 412.00,619.40 C413.17,625.07 414.17,629.53 415.30,634.00 C416.43,638.47 416.92,642.10 418.80,646.20 C420.68,650.30 424.02,655.50 426.60,658.60 C429.18,661.70 431.72,663.52 434.30,664.80 C436.88,666.08 439.52,666.57 442.10,666.30 C444.68,666.03 447.22,664.75 449.80,663.20 C452.38,661.65 455.02,660.10 457.60,657.00 C460.18,653.90 462.27,650.85 465.30,644.60 C468.33,638.35 472.28,626.32 475.80,619.50 C479.32,612.68 482.88,606.98 486.40,603.70 C489.92,600.42 493.38,599.35 496.90,599.80 C500.42,600.25 503.98,602.88 507.50,606.40 C511.02,609.92 514.48,616.52 518.00,620.90 C521.52,625.28 525.08,629.20 528.60,632.70 C532.12,636.20 536.03,639.92 539.10,641.90 C542.17,643.88 543.92,644.82 547.00,644.60 C550.08,644.38 553.65,643.02 557.60,640.60 C561.55,638.18 566.32,633.62 570.70,630.10 C575.08,626.58 579.50,622.37 583.90,619.50 C588.30,616.63 592.70,613.33 597.10,612.90 C601.50,612.47 606.35,615.13 610.30,616.90 C614.25,618.67 617.73,621.52 620.80,623.50 C623.87,625.48 626.95,627.63 628.70,628.80 C630.45,629.97 630.87,630.22 631.30,630.50" fill="none" stroke="#7a4a80" stroke-width="2.20" stroke-dasharray="2 2.2" stroke-linejoin="round"/>
<path d="M379.50,441.30 C379.97,443.92 381.28,450.88 382.30,457.00 C383.32,463.12 384.48,470.83 385.60,478.00 C386.72,485.17 387.85,492.83 389.00,500.00 C390.15,507.17 391.37,514.17 392.50,521.00 C393.63,527.83 394.82,535.17 395.80,541.00 C396.78,546.83 397.40,550.33 398.40,556.00 C399.40,561.67 400.57,568.00 401.80,575.00 C403.03,582.00 404.47,590.83 405.80,598.00 C407.13,605.17 408.27,612.11 409.80,618.00 C411.33,623.89 413.55,628.96 415.00,633.32 C416.45,637.68 416.62,640.53 418.50,644.18 C420.38,647.83 423.72,652.45 426.30,655.21 C428.88,657.97 431.42,659.59 434.00,660.73 C436.58,661.87 439.22,662.30 441.80,662.06 C444.38,661.83 446.92,660.69 449.50,659.31 C452.08,657.93 454.72,656.55 457.30,653.79 C459.88,651.03 461.97,648.31 465.00,642.75 C468.03,637.19 471.98,626.48 475.50,620.41 C479.02,614.35 482.58,609.27 486.10,606.35 C489.62,603.43 493.08,602.48 496.60,602.88 C500.12,603.28 503.68,605.62 507.20,608.75 C510.72,611.88 514.18,617.76 517.70,621.66 C521.22,625.56 524.78,629.05 528.30,632.16 C531.82,635.28 535.73,638.58 538.80,640.35 C541.87,642.11 543.62,642.94 546.70,642.75 C549.78,642.56 553.35,641.34 557.30,639.19 C561.25,637.04 566.02,632.98 570.40,629.85 C574.78,626.72 579.20,622.96 583.60,620.41 C588.00,617.86 592.40,614.92 596.80,614.54 C601.20,614.15 606.05,616.53 610.00,618.10 C613.95,619.67 617.43,622.21 620.50,623.97 C623.57,625.74 626.65,627.65 628.40,628.69 C630.15,629.73 630.57,629.95 631.00,630.20" fill="none" stroke="#d9a040" stroke-width="2.50" stroke-dasharray="3 4" stroke-linejoin="round"/>
<path d="M380.30,446.20 C380.72,448.77 381.83,455.72 382.80,461.60 C383.77,467.48 385.00,474.58 386.10,481.50 C387.20,488.42 388.28,496.17 389.40,503.10 C390.52,510.03 391.68,516.45 392.80,523.10 C393.92,529.75 395.13,537.47 396.10,543.00 C397.07,548.53 397.62,550.97 398.60,556.30 C399.58,561.63 400.77,568.05 402.00,575.00 C403.23,581.95 404.67,590.83 406.00,598.00 C407.33,605.17 408.50,612.08 410.00,618.00 C411.50,623.92 413.58,629.05 415.00,633.50 C416.42,637.96 416.62,640.96 418.50,644.73 C420.38,648.50 423.72,653.28 426.30,656.14 C428.88,658.99 431.42,660.66 434.00,661.84 C436.58,663.02 439.22,663.47 441.80,663.22 C444.38,662.97 446.92,661.79 449.50,660.37 C452.08,658.94 454.72,657.52 457.30,654.66 C459.88,651.81 461.97,649.01 465.00,643.26 C468.03,637.51 471.98,626.44 475.50,620.16 C479.02,613.89 482.58,608.65 486.10,605.63 C489.62,602.61 493.08,601.63 496.60,602.04 C500.12,602.45 503.68,604.88 507.20,608.11 C510.72,611.35 514.18,617.42 517.70,621.45 C521.22,625.48 524.78,629.09 528.30,632.31 C531.82,635.53 535.73,638.95 538.80,640.77 C541.87,642.60 543.62,643.46 546.70,643.26 C549.78,643.06 553.35,641.80 557.30,639.58 C561.25,637.35 566.02,633.15 570.40,629.92 C574.78,626.68 579.20,622.80 583.60,620.16 C588.00,617.53 592.40,614.49 596.80,614.09 C601.20,613.69 606.05,616.15 610.00,617.77 C613.95,619.40 617.43,622.02 620.50,623.84 C623.57,625.67 626.65,627.65 628.40,628.72 C630.15,629.79 630.57,630.02 631.00,630.28" fill="none" stroke="#7ab83a" stroke-width="2.60" stroke-dasharray="15 3" stroke-linejoin="round"/>
<path d="M378.90,398.40 C379.37,400.37 380.77,405.70 381.70,410.20 C382.63,414.70 383.70,421.02 384.50,425.40 C385.30,429.78 385.87,431.97 386.50,436.50 C387.13,441.03 387.77,447.60 388.30,452.60 C388.83,457.60 389.28,461.77 389.70,466.50 C390.12,471.23 390.20,474.98 390.80,481.00 C391.40,487.02 392.47,495.67 393.30,502.60 C394.13,509.53 395.00,516.45 395.80,522.60 C396.60,528.75 397.28,533.68 398.10,539.50 C398.92,545.32 399.68,550.83 400.70,557.50 C401.72,564.17 403.03,572.50 404.20,579.50 C405.37,586.50 406.50,592.93 407.70,599.50 C408.90,606.07 410.18,613.18 411.40,618.90 C412.62,624.62 413.82,629.36 415.00,633.81 C416.18,638.27 416.62,641.67 418.50,645.65 C420.38,649.62 423.72,654.67 426.30,657.68 C428.88,660.68 431.42,662.45 434.00,663.69 C436.58,664.93 439.22,665.40 441.80,665.14 C444.38,664.89 446.92,663.64 449.50,662.14 C452.08,660.63 454.72,659.13 457.30,656.12 C459.88,653.12 461.97,650.16 465.00,644.10 C468.03,638.03 471.98,626.36 475.50,619.75 C479.02,613.14 482.58,607.61 486.10,604.42 C489.62,601.24 493.08,600.20 496.60,600.64 C500.12,601.08 503.68,603.63 507.20,607.04 C510.72,610.45 514.18,616.86 517.70,621.11 C521.22,625.36 524.78,629.16 528.30,632.55 C531.82,635.95 535.73,639.55 538.80,641.48 C541.87,643.40 543.62,644.31 546.70,644.10 C549.78,643.89 553.35,642.56 557.30,640.22 C561.25,637.87 566.02,633.44 570.40,630.03 C574.78,626.62 579.20,622.53 583.60,619.75 C588.00,616.97 592.40,613.77 596.80,613.35 C601.20,612.93 606.05,615.51 610.00,617.23 C613.95,618.94 617.43,621.71 620.50,623.63 C623.57,625.55 626.65,627.64 628.40,628.77 C630.15,629.90 630.57,630.14 631.00,630.42" fill="none" stroke="#74493c" stroke-width="2.40" stroke-dasharray="8 2 8 2 1.2 1.5 1.2 1.5" stroke-linejoin="round"/>
<path d="M380.30,378.30 C380.53,379.25 381.23,380.77 381.70,384.00 C382.17,387.23 382.63,393.10 383.10,397.70 C383.57,402.30 384.03,406.98 384.50,411.60 C384.97,416.22 385.45,420.78 385.90,425.40 C386.35,430.02 386.75,434.68 387.20,439.30 C387.65,443.92 388.13,448.48 388.60,453.10 C389.07,457.72 389.58,462.27 390.00,467.00 C390.42,471.73 390.50,475.48 391.10,481.50 C391.70,487.52 392.77,496.17 393.60,503.10 C394.43,510.03 395.30,516.95 396.10,523.10 C396.90,529.25 397.58,534.18 398.40,540.00 C399.22,545.82 399.98,551.33 401.00,558.00 C402.02,564.67 403.33,573.00 404.50,580.00 C405.67,587.00 406.80,593.43 408.00,600.00 C409.20,606.57 410.53,613.73 411.70,619.40 C412.87,625.07 413.87,629.53 415.00,634.00 C416.13,638.47 416.62,642.10 418.50,646.20 C420.38,650.30 423.72,655.50 426.30,658.60 C428.88,661.70 431.42,663.52 434.00,664.80 C436.58,666.08 439.22,666.57 441.80,666.30 C444.38,666.03 446.92,664.75 449.50,663.20 C452.08,661.65 454.72,660.10 457.30,657.00 C459.88,653.90 461.97,650.85 465.00,644.60 C468.03,638.35 471.98,626.32 475.50,619.50 C479.02,612.68 482.58,606.98 486.10,603.70 C489.62,600.42 493.08,599.35 496.60,599.80 C500.12,600.25 503.68,602.88 507.20,606.40 C510.72,609.92 514.18,616.52 517.70,620.90 C521.22,625.28 524.78,629.20 528.30,632.70 C531.82,636.20 535.73,639.92 538.80,641.90 C541.87,643.88 543.62,644.82 546.70,644.60 C549.78,644.38 553.35,643.02 557.30,640.60 C561.25,638.18 566.02,633.62 570.40,630.10 C574.78,626.58 579.20,622.37 583.60,619.50 C588.00,616.63 592.40,613.33 596.80,612.90 C601.20,612.47 606.05,615.13 610.00,616.90 C613.95,618.67 617.43,621.52 620.50,623.50 C623.57,625.48 626.65,627.63 628.40,628.80 C630.15,629.97 630.57,630.22 631.00,630.50" fill="none" stroke="#454545" stroke-width="2.60" stroke-dasharray="2.2 0.8" stroke-linejoin="round"/>
</g>
<g stroke="#707070" stroke-width="1.8"><line x1="375.3" y1="669.7" x2="375.3" y2="663.2"/><line x1="375.3" y1="368.0" x2="375.3" y2="374.5"/><line x1="459.6" y1="669.7" x2="459.6" y2="663.2"/><line x1="459.6" y1="368.0" x2="459.6" y2="374.5"/><line x1="543.9" y1="669.7" x2="543.9" y2="663.2"/><line x1="543.9" y1="368.0" x2="543.9" y2="374.5"/><line x1="628.2" y1="669.7" x2="628.2" y2="663.2"/><line x1="628.2" y1="368.0" x2="628.2" y2="374.5"/><line x1="373.3" y1="627.8" x2="379.8" y2="627.8"/><line x1="629.8" y1="627.8" x2="623.3" y2="627.8"/><line x1="373.3" y1="544.5" x2="379.8" y2="544.5"/><line x1="629.8" y1="544.5" x2="623.3" y2="544.5"/><line x1="373.3" y1="461.3" x2="379.8" y2="461.3"/><line x1="629.8" y1="461.3" x2="623.3" y2="461.3"/><line x1="373.3" y1="378.0" x2="379.8" y2="378.0"/><line x1="629.8" y1="378.0" x2="623.3" y2="378.0"/></g>
<rect x="373.3" y="368.0" width="256.5" height="301.7" fill="none" stroke="#8a8a8a" stroke-width="2.1"/>
<text transform="translate(375.3,689.8) scale(1.050,1)" font-size="16.3" text-anchor="middle">0.00</text>
<text transform="translate(459.6,689.8) scale(1.050,1)" font-size="16.3" text-anchor="middle">0.05</text>
<text transform="translate(543.9,689.8) scale(1.050,1)" font-size="16.3" text-anchor="middle">0.10</text>
<text transform="translate(628.2,689.8) scale(1.050,1)" font-size="16.3" text-anchor="middle">0.15</text>
<text transform="translate(369.0,633.8) scale(1.050,1)" font-size="16.3" text-anchor="end">1.0</text>
<text transform="translate(369.0,550.5) scale(1.050,1)" font-size="16.3" text-anchor="end">1.5</text>
<text transform="translate(369.0,467.3) scale(1.050,1)" font-size="16.3" text-anchor="end">2.0</text>
<text transform="translate(369.0,384.0) scale(1.050,1)" font-size="16.3" text-anchor="end">2.5</text>
<text x="505.0" y="717.2" font-size="18.6" text-anchor="middle">q (A<tspan font-size="12.3" dy="-12.3" dx="0.6">-1</tspan><tspan dy="12.3" dx="0.6">)</tspan></text>
<text transform="translate(336.6,515.8) rotate(-90)" x="0" y="0" font-size="19" text-anchor="middle">Structure Factor S<tspan font-size="12.6" dy="4.3">SHS</tspan><tspan dy="-4.3">(q)</tspan></text>
<text x="624.5" y="409.4" font-size="48.0" text-anchor="end">d</text>
<rect x="422.2" y="451.0" width="200.3" height="110.4" fill="#ffffff" stroke="#8a8a8a" stroke-width="1.6"/>
<line x1="427.0" y1="464.1" x2="459.7" y2="464.1" stroke="#46689a" stroke-width="2.70" stroke-dasharray="2.6 1.6 0.8 1.6"/>
<text transform="translate(519.2,470.2) scale(1.060,1)" font-size="17.0" text-anchor="end">5 mM</text>
<line x1="427.0" y1="485.6" x2="459.7" y2="485.6" stroke="#f06a22" stroke-width="2.60" stroke-dasharray="11 1.2 1.2 1.2 1.2 1.2 1.2 1.2"/>
<text transform="translate(519.2,491.7) scale(1.060,1)" font-size="17.0" text-anchor="end">6 mM</text>
<line x1="427.0" y1="506.8" x2="459.7" y2="506.8" stroke="#d9a040" stroke-width="2.50" stroke-dasharray="3 4"/>
<text transform="translate(519.2,512.9) scale(1.060,1)" font-size="17.0" text-anchor="end">8 mM</text>
<line x1="427.0" y1="528.4" x2="459.7" y2="528.4" stroke="#7a4a80" stroke-width="2.20" stroke-dasharray="2 2.2"/>
<text transform="translate(519.2,534.5) scale(1.060,1)" font-size="17.0" text-anchor="end">10 mM</text>
<line x1="427.0" y1="549.4" x2="459.7" y2="549.4" stroke="#a6b3a2" stroke-width="2.50"/>
<text transform="translate(519.2,555.5) scale(1.060,1)" font-size="17.0" text-anchor="end">12 mM</text>
<line x1="527.0" y1="464.1" x2="560.2" y2="464.1" stroke="#74493c" stroke-width="2.40" stroke-dasharray="8 2 8 2 1.2 1.5 1.2 1.5"/>
<text transform="translate(619.2,470.2) scale(1.060,1)" font-size="17.0" text-anchor="end">15 mM</text>
<line x1="527.0" y1="485.6" x2="560.2" y2="485.6" stroke="#7ab83a" stroke-width="2.60" stroke-dasharray="15 3"/>
<text transform="translate(619.2,491.7) scale(1.060,1)" font-size="17.0" text-anchor="end">20 mM</text>
<line x1="527.0" y1="506.8" x2="560.2" y2="506.8" stroke="#1ea0e6" stroke-width="2.80" stroke-dasharray="15 1.3 1.3 1.3 1.3 1.3"/>
<text transform="translate(619.2,512.9) scale(1.060,1)" font-size="17.0" text-anchor="end">30 mM</text>
<line x1="527.0" y1="528.4" x2="560.2" y2="528.4" stroke="#8a8a8a" stroke-width="2.20" stroke-dasharray="2.3 1.2"/>
<text transform="translate(619.2,534.5) scale(1.060,1)" font-size="17.0" text-anchor="end">50 mM</text></svg>
</body></html>
